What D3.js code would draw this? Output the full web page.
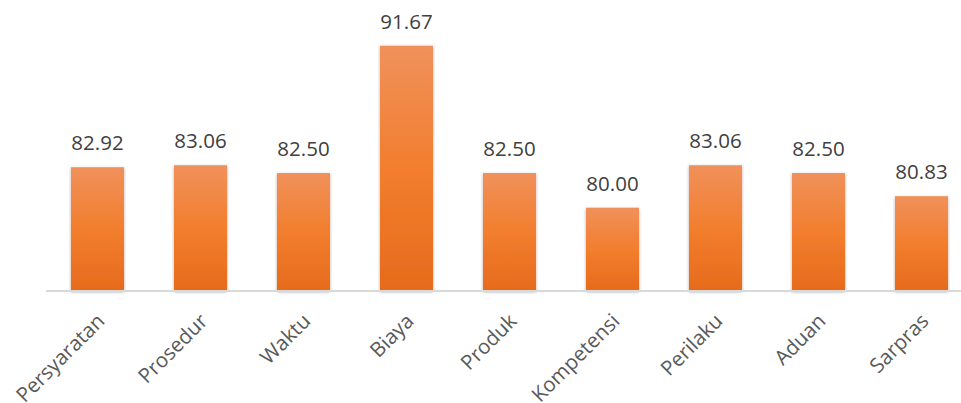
<!DOCTYPE html>
<html>
<head>
<meta charset="utf-8">
<script src="https://cdn.jsdelivr.net/npm/d3@7"></script>
<style>
  body { margin: 0; background: #fff; }
  svg { display: block; }
</style>
</head>
<body>
<div id="chart"></div>
<script>
// categories and scores
const categories = ["Persyaratan", "Prosedur", "Waktu", "Biaya", "Produk", "Kompetensi", "Perilaku", "Aduan", "Sarpras"];
const scores = [82.92, 83.06, 82.50, 91.67, 82.50, 80.00, 83.06, 82.50, 80.83];
const yDomain = [74, 94];

const data = categories.map((c, i) => ({ name: c, value: scores[i] }));

const width = 961, height = 403;
const baseY = 291;

const svg = d3.select("#chart")
    .append("svg")
    .attr("width", width)
    .attr("height", height);

const defs = svg.append("defs");
const grad = defs.append("linearGradient")
    .attr("id", "barGrad")
    .attr("x1", 0).attr("y1", 0).attr("x2", 0).attr("y2", 1);
grad.append("stop").attr("offset", "0%").attr("stop-color", "#F0915B");
grad.append("stop").attr("offset", "50%").attr("stop-color", "#F27E2E");
grad.append("stop").attr("offset", "100%").attr("stop-color", "#E66B1C");

const shadow = defs.append("filter")
    .attr("id", "shadow")
    .attr("x", "-20%").attr("y", "-20%").attr("width", "140%").attr("height", "140%");
shadow.append("feDropShadow")
    .attr("dx", 0).attr("dy", 1)
    .attr("stdDeviation", 1.6)
    .attr("flood-color", "#000")
    .attr("flood-opacity", 0.35);

const xScale = d3.scaleBand()
    .domain(categories)
    .range([46, 973])
    .paddingInner(0.485)
    .paddingOuter(0.2425);

const yScale = d3.scaleLinear()
    .domain(yDomain)
    .range([baseY, baseY - 20 * 13.88]);

// bars
svg.append("g")
    .selectAll("rect")
    .data(data)
    .enter()
    .append("rect")
    .attr("x", d => xScale(d.name))
    .attr("y", d => yScale(d.value))
    .attr("width", xScale.bandwidth())
    .attr("height", d => yScale(yDomain[0]) - yScale(d.value))
    .attr("fill", "url(#barGrad)")
    .attr("filter", "url(#shadow)");

// baseline
svg.append("line")
    .attr("x1", 46).attr("x2", width)
    .attr("y1", baseY).attr("y2", baseY)
    .attr("stroke", "#D9D9D9")
    .attr("stroke-width", 2);

// value labels
svg.append("g")
    .selectAll("text")
    .data(data)
    .enter()
    .append("text")
    .attr("x", d => xScale(d.name) + xScale.bandwidth() / 2)
    .attr("y", d => yScale(d.value) - 17)
    .attr("text-anchor", "middle")
    .attr("font-family", "'Open Sans', sans-serif")
    .attr("font-size", "20.5px")
    .attr("fill", "#404040")
    .text(d => d.value.toFixed(2));

// category labels, rotated
svg.append("g")
    .selectAll("text")
    .data(data)
    .enter()
    .append("text")
    .attr("transform", d => `translate(${xScale(d.name) + xScale.bandwidth() / 2 - 2},${baseY + 21}) rotate(-45)`)
    .attr("dy", "0.72em")
    .attr("text-anchor", "end")
    .attr("font-family", "'Open Sans', sans-serif")
    .attr("font-size", "20.5px")
    .attr("fill", "#595959")
    .text(d => d.name);
</script>
</body>
</html>
